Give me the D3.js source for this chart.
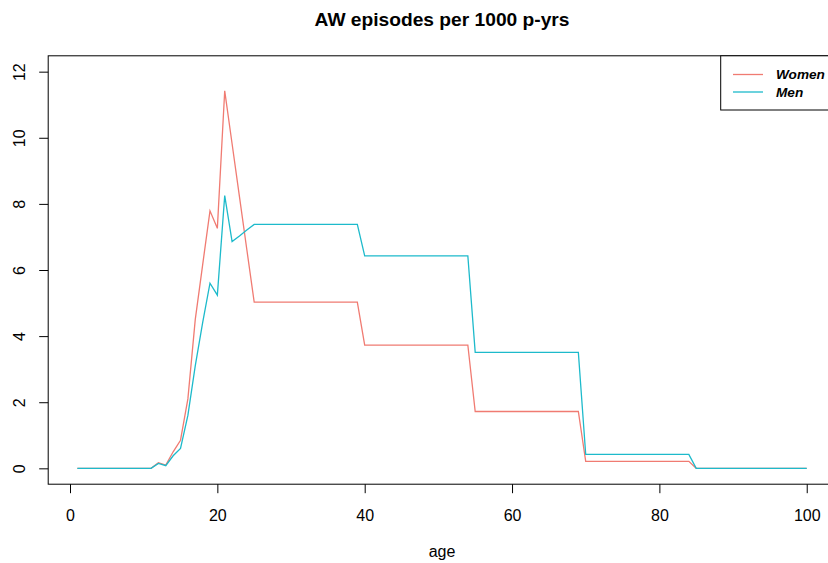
<!DOCTYPE html>
<html>
<head>
<meta charset="utf-8">
<script src="https://cdn.jsdelivr.net/npm/d3@7"></script>
<style>
  html, body { margin: 0; padding: 0; background: #fff; }
  svg { display: block; font-family: "Liberation Sans", Arial, sans-serif; }
</style>
</head>
<body>
<svg id="chart" width="828" height="563"></svg>
<script>
// ---- data ----
const ages = [
  1,2,3,4,5,6,7,8,9,10,11,12,13,14,15,16,17,18,19,20,
  21,22,23,24,25,26,27,28,29,30,31,32,33,34,35,36,37,38,39,40,
  41,42,43,44,45,46,47,48,49,50,51,52,53,54,55,56,57,58,59,60,
  61,62,63,64,65,66,67,68,69,70,71,72,73,74,75,76,77,78,79,80,
  81,82,83,84,85,86,87,88,89,90,91,92,93,94,95,96,97,98,99,100
];
const women = [
  0,0,0,0,0,0,0,0,0,0,0,0.17,0.10,0.50,0.85,2.10,4.50,6.15,7.79,7.26,
  11.42,9.82,8.22,6.62,5.03,5.03,5.03,5.03,5.03,5.03,5.03,5.03,5.03,5.03,5.03,5.03,5.03,5.03,5.03,3.73,
  3.73,3.73,3.73,3.73,3.73,3.73,3.73,3.73,3.73,3.73,3.73,3.73,3.73,3.73,1.72,1.72,1.72,1.72,1.72,1.72,
  1.72,1.72,1.72,1.72,1.72,1.72,1.72,1.72,1.72,0.21,0.21,0.21,0.21,0.21,0.21,0.21,0.21,0.21,0.21,0.21,
  0.21,0.21,0.21,0.21,0,0,0,0,0,0,0,0,0,0,0,0,0,0,0,0
];
const men = [
  0,0,0,0,0,0,0,0,0,0,0,0.15,0.08,0.38,0.60,1.60,3.10,4.40,5.60,5.24,
  8.25,6.86,7.03,7.21,7.38,7.38,7.38,7.38,7.38,7.38,7.38,7.38,7.38,7.38,7.38,7.38,7.38,7.38,7.38,6.43,
  6.43,6.43,6.43,6.43,6.43,6.43,6.43,6.43,6.43,6.43,6.43,6.43,6.43,6.43,3.51,3.51,3.51,3.51,3.51,3.51,
  3.51,3.51,3.51,3.51,3.51,3.51,3.51,3.51,3.51,0.42,0.42,0.42,0.42,0.42,0.42,0.42,0.42,0.42,0.42,0.42,
  0.42,0.42,0.42,0.42,0,0,0,0,0,0,0,0,0,0,0,0,0,0,0,0
];
const seriesNames = ["Women", "Men"];
const seriesColors = ["#F07B72", "#1DBACB"];
const xTicks = [0, 20, 40, 60, 80, 100];
const yTicks = [0, 2, 4, 6, 8, 10, 12];
const titleText = "AW episodes per 1000 p-yrs";
const xLabel = "age";

(function () {
// ---- layout ----
const svg = d3.select("#chart");
const pL = 48.2, pR = 835.9, pT = 55.8, pB = 484.2;

const x = d3.scaleLinear().domain([-2.96, 103.96]).range([pL, pR]);
const y = d3.scaleLinear().domain([-0.48, 12.48]).range([pB, pT]);

// title
svg.append("text")
  .attr("x", (pL + pR) / 2).attr("y", 25.5)
  .attr("text-anchor", "middle")
  .attr("font-size", "19.2px").attr("font-weight", "bold")
  .attr("fill", "#000")
  .text(titleText);

// series lines
const series = [women, men];
const line = d3.line()
  .x((d, i) => x(ages[i]))
  .y(d => y(d));

series.forEach((vals, k) => {
  svg.append("path")
    .datum(vals)
    .attr("d", line)
    .attr("fill", "none")
    .attr("stroke", seriesColors[k])
    .attr("stroke-width", 1.3)
    .attr("stroke-linejoin", "miter");
});

// plot box
svg.append("rect")
  .attr("x", pL).attr("y", pT)
  .attr("width", pR - pL).attr("height", pB - pT)
  .attr("fill", "none").attr("stroke", "#000").attr("stroke-width", 1);

// x axis
const xAxis = d3.axisBottom(x).tickValues(xTicks).tickSize(9).tickPadding(0)
  .tickFormat(d3.format("d"));
const gx = svg.append("g").attr("transform", `translate(0,${pB})`).call(xAxis);
gx.select(".domain").remove();
gx.selectAll(".tick line").attr("stroke", "#000");
gx.selectAll(".tick text")
  .attr("y", 37).attr("dy", null)
  .attr("font-size", "16px").attr("fill", "#000")
  .attr("font-family", "Liberation Sans, Arial, sans-serif");

// y axis
const yAxis = d3.axisLeft(y).tickValues(yTicks).tickSize(9).tickPadding(0)
  .tickFormat(d3.format("d"));
const gy = svg.append("g").attr("transform", `translate(${pL},0)`).call(yAxis);
gy.select(".domain").remove();
gy.selectAll(".tick line").attr("stroke", "#000");
gy.selectAll(".tick text")
  .attr("x", null).attr("dy", null)
  .attr("text-anchor", "middle")
  .attr("transform", "translate(-22.8,0) rotate(-90)")
  .attr("font-size", "16px").attr("fill", "#000")
  .attr("font-family", "Liberation Sans, Arial, sans-serif");

// x label
svg.append("text")
  .attr("x", (pL + pR) / 2).attr("y", 557)
  .attr("text-anchor", "middle")
  .attr("font-size", "16px").attr("fill", "#000")
  .text(xLabel);

// legend
const lg = svg.append("g");
lg.append("rect")
  .attr("x", 720.7).attr("y", pT)
  .attr("width", 140).attr("height", 110 - pT)
  .attr("fill", "#fff").attr("stroke", "#000").attr("stroke-width", 1);
const legY = [74.5, 92];
seriesNames.forEach((name, k) => {
  lg.append("line")
    .attr("x1", 733).attr("x2", 763)
    .attr("y1", legY[k]).attr("y2", legY[k])
    .attr("stroke", seriesColors[k]).attr("stroke-width", 1.3);
  lg.append("text")
    .attr("x", 776).attr("y", legY[k] + 4.8)
    .attr("font-size", "13.6px").attr("font-weight", "bold").attr("font-style", "italic")
    .attr("fill", "#000")
    .text(name);
});
})();
</script>
</body>
</html>
